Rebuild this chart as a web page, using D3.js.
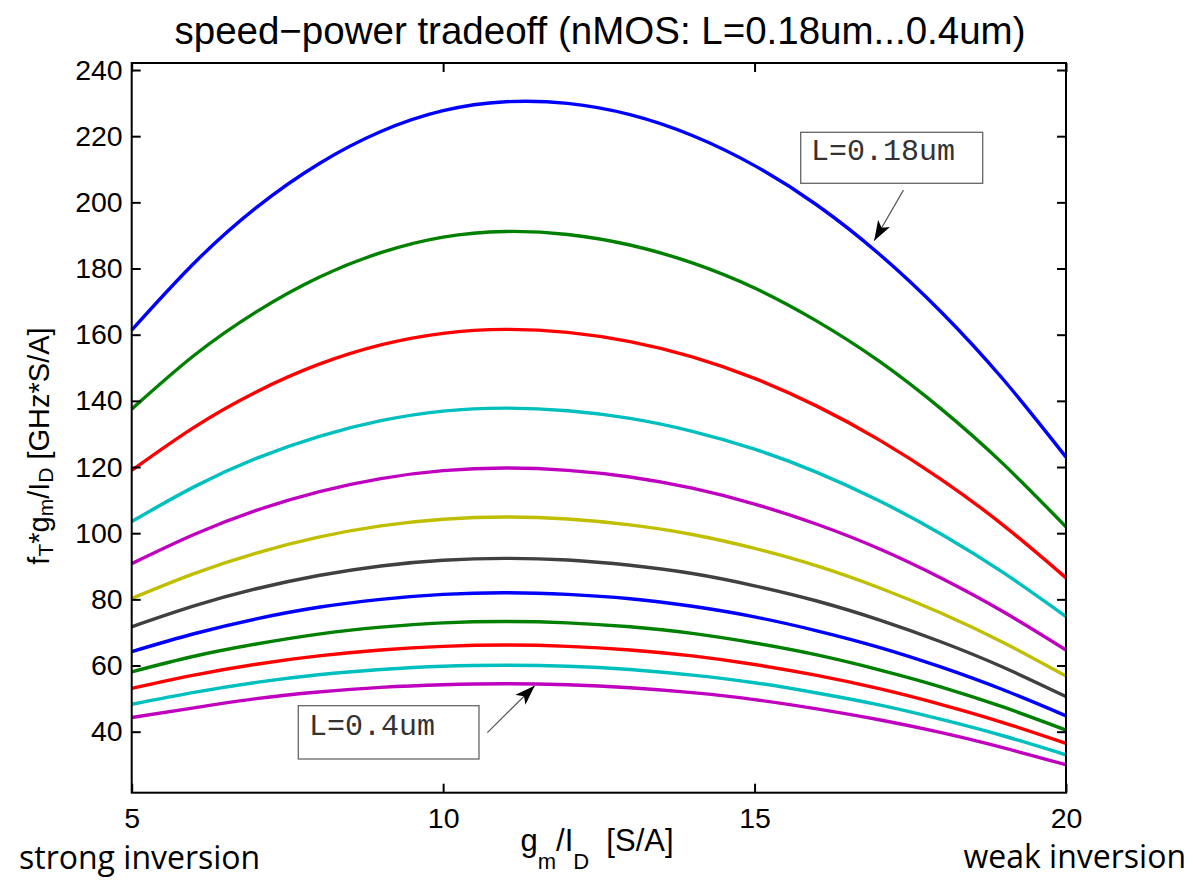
<!DOCTYPE html>
<html>
<head>
<meta charset="utf-8">
<script src="https://cdn.jsdelivr.net/npm/d3@7"></script>
<style>
  html, body { margin: 0; padding: 0; background: #fff; }
  svg { display: block; }
  text { white-space: pre; }
</style>
</head>
<body>
<svg id="chart" width="1193" height="881"></svg>
<script>
// ---------------- data ----------------
const gmId = [5, 6, 7, 8, 9, 10, 11, 12, 13, 14, 15, 16, 17, 18, 19, 20];

const seriesNames = ["L1", "L2", "L3", "L4", "L5", "L6", "L7", "L8", "L9", "L10", "L11", "L12"];
const seriesColors = ["#0000ff", "#008000", "#ff0000", "#00bfbf", "#bf00bf", "#bfbf00",
                      "#404040", "#0000ff", "#008000", "#ff0000", "#00bfbf", "#bf00bf"];

const s1  = [161.4, 181.6, 198.4, 211.6, 221.4, 227.7, 230.4, 229.9, 226.5, 220.2, 211.1, 199.2, 184.4, 166.8, 146.3, 123.0];
const s2  = [137.5, 153.7, 166.9, 177.3, 184.8, 189.5, 191.2, 190.3, 187.1, 181.7, 174.1, 164.1, 152.0, 137.5, 120.8, 101.9];
const s3  = [119.0, 132.0, 142.7, 151.0, 156.9, 160.4, 161.6, 160.7, 157.9, 153.3, 146.8, 138.4, 128.2, 116.2, 102.3, 86.5];
const s4  = [103.5, 114.0, 122.6, 129.2, 134.0, 136.9, 137.8, 137.0, 134.7, 130.8, 125.4, 118.4, 109.8, 99.7, 88.0, 74.8];
const s5  = [90.8, 99.6, 106.9, 112.5, 116.5, 118.9, 119.7, 119.0, 117.0, 113.6, 108.8, 102.7, 95.3, 86.4, 76.2, 64.7];
const s6  = [80.3, 87.8, 94.0, 98.8, 102.2, 104.2, 104.9, 104.3, 102.5, 99.6, 95.4, 90.1, 83.5, 75.8, 66.9, 56.8];
const s7  = [71.7, 78.0, 83.2, 87.2, 90.1, 91.8, 92.4, 91.9, 90.3, 87.8, 84.1, 79.5, 73.8, 67.1, 59.4, 50.6];
const s8  = [64.2, 69.6, 74.1, 77.6, 80.0, 81.5, 82.0, 81.5, 80.2, 77.9, 74.7, 70.5, 65.5, 59.5, 52.6, 44.8];
const s9  = [58.1, 62.8, 66.5, 69.5, 71.6, 72.9, 73.3, 72.9, 71.7, 69.7, 66.8, 63.2, 58.7, 53.5, 47.4, 40.5];
const s10 = [53.1, 57.1, 60.4, 62.9, 64.7, 65.8, 66.2, 65.8, 64.7, 62.9, 60.3, 57.0, 53.0, 48.2, 42.7, 36.5];
const s11 = [48.3, 51.9, 54.9, 57.2, 58.8, 59.8, 60.1, 59.8, 58.8, 57.1, 54.8, 51.7, 48.1, 43.7, 38.7, 33.0];
const s12 = [44.3, 47.2, 50.0, 52.0, 53.4, 54.2, 54.5, 54.2, 53.3, 51.8, 49.7, 46.9, 43.6, 39.7, 35.1, 30.0];

const xTicks = [5, 10, 15, 20];
const yTicks = [40, 60, 80, 100, 120, 140, 160, 180, 200, 220, 240];

const titleText = "speed\u2212power tradeoff (nMOS: L=0.18um...0.4um)";
const labelTop = "L=0.18um";
const labelBottom = "L=0.4um";

// ---------------- layout ----------------
const svg = d3.select("#chart");
const X0 = 131.7, X1 = 1066, Y0 = 63, Y1 = 792.7;

const x = d3.scaleLinear().domain([5, 20]).range([X0, X1]);
const y = d3.scaleLinear().domain([21.56, 242.12]).range([Y1, Y0]);

const allSeries = [s1, s2, s3, s4, s5, s6, s7, s8, s9, s10, s11, s12];

// curves
const line = d3.line()
  .x((d, i) => x(gmId[i]))
  .y(d => y(d))
  .curve(d3.curveNatural);

svg.append("g").selectAll("path")
  .data(allSeries)
  .join("path")
  .attr("d", d => line(d))
  .attr("fill", "none")
  .attr("stroke", (d, i) => seriesColors[i])
  .attr("stroke-width", 3.4)
  .attr("stroke-linejoin", "round");

// axes (box with inward ticks)
const tickFont = "'Liberation Sans', Arial, Helvetica, sans-serif";
const axL = svg.append("g").attr("transform", `translate(${X0},0)`)
  .call(d3.axisLeft(y).tickValues(yTicks).tickSizeInner(-9).tickSizeOuter(0).tickPadding(9));
const axR = svg.append("g").attr("transform", `translate(${X1},0)`)
  .call(d3.axisRight(y).tickValues(yTicks).tickSizeInner(-9).tickSizeOuter(0).tickFormat(""));
const axB = svg.append("g").attr("transform", `translate(0,${Y1})`)
  .call(d3.axisBottom(x).tickValues(xTicks).tickSizeInner(-9).tickSizeOuter(0).tickPadding(15));
const axT = svg.append("g").attr("transform", `translate(0,${Y0})`)
  .call(d3.axisTop(x).tickValues(xTicks).tickSizeInner(-9).tickSizeOuter(0).tickFormat(""));

[axL, axR, axB, axT].forEach(a => {
  a.select(".domain").remove();
  a.selectAll(".tick line").attr("stroke", "#000").attr("stroke-width", 2);
  a.selectAll(".tick text").attr("fill", "#000").style("font-family", tickFont).style("font-size", "28.5px");
});

svg.append("rect")
  .attr("x", X0).attr("y", Y0).attr("width", X1 - X0).attr("height", Y1 - Y0)
  .attr("fill", "none").attr("stroke", "#000").attr("stroke-width", 2);

// title
svg.append("text")
  .attr("x", 600).attr("y", 44)
  .attr("text-anchor", "middle")
  .style("font-family", tickFont).style("font-size", "38.5px")
  .text(titleText);

// x label
const xl = svg.append("text")
  .attr("x", 597).attr("y", 851)
  .attr("text-anchor", "middle")
  .style("font-family", tickFont).style("font-size", "31px");
xl.append("tspan").text("g");
xl.append("tspan").attr("dy", 18).style("font-size", "22px").text("m");
xl.append("tspan").attr("dy", -18).text("/I");
xl.append("tspan").attr("dy", 18).style("font-size", "22px").text("D");
xl.append("tspan").attr("dy", -18).text("  [S/A]");

// y label
const yl = svg.append("text")
  .attr("transform", "translate(49,446) rotate(-90)")
  .attr("text-anchor", "middle")
  .style("font-family", tickFont).style("font-size", "29px");
yl.append("tspan").text("f");
yl.append("tspan").attr("dy", 4).style("font-size", "21px").text("T");
yl.append("tspan").attr("dy", -4).text("*g");
yl.append("tspan").attr("dy", 4).style("font-size", "21px").text("m");
yl.append("tspan").attr("dy", -4).text("/I");
yl.append("tspan").attr("dy", 4).style("font-size", "21px").text("D");
yl.append("tspan").attr("dy", -4).text(" [GHz*S/A]");

// side notes
const noteFont = "'Open Sans', 'Noto Sans', sans-serif";
svg.append("text").attr("x", 19).attr("y", 869)
  .style("font-family", noteFont).style("font-size", "32px").text("strong inversion");
svg.append("text").attr("x", 1186).attr("y", 868).attr("text-anchor", "end")
  .style("font-family", noteFont).style("font-size", "32px").text("weak inversion");

// annotations
const defs = svg.append("defs");
defs.append("marker")
  .attr("id", "arr").attr("viewBox", "0 0 20 14").attr("refX", 20).attr("refY", 7)
  .attr("markerUnits", "userSpaceOnUse").attr("markerWidth", 20).attr("markerHeight", 14)
  .attr("orient", "auto")
  .append("path").attr("d", "M0,0 L20,7 L0,14 L5,7 Z").attr("fill", "#000");

const monoFont = "'Liberation Mono', 'Courier New', monospace";
function annotate(bx, by, bw, bh, label, tx, ty, tailG, tailV, tipG, tipV) {
  svg.append("rect").attr("x", bx).attr("y", by).attr("width", bw).attr("height", bh)
    .attr("fill", "#fff").attr("stroke", "#666").attr("stroke-width", 1.3);
  svg.append("text").attr("x", tx).attr("y", ty)
    .style("font-family", monoFont).style("font-size", "30px").attr("fill", "#333").text(label);
  svg.append("line")
    .attr("x1", x(tailG)).attr("y1", y(tailV)).attr("x2", x(tipG)).attr("y2", y(tipV))
    .attr("stroke", "#555").attr("stroke-width", 1.2).attr("marker-end", "url(#arr)");
}
annotate(800.7, 132.3, 182, 51, labelTop, 811, 160, 17.39, 203.7, 16.92, 188.4);
annotate(298.3, 705.7, 180.7, 53.3, labelBottom, 309, 735, 10.71, 39.7, 11.47, 53.9);
</script>
</body>
</html>
